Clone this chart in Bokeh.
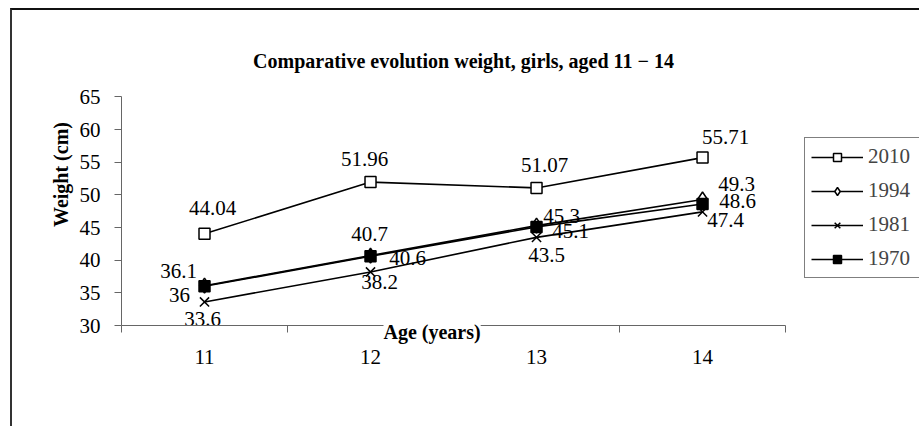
from bokeh.plotting import figure
from bokeh.models import (Range1d, FixedTicker, ColumnDataSource, Legend, LegendItem, Label, Title)
from bokeh.core.properties import value
from bokeh.embed import file_html
from bokeh.resources import INLINE

ages = [11, 12, 13, 14]
w2010 = [44.04, 51.96, 51.07, 55.71]
w1994 = [36.1, 40.7, 45.3, 49.3]
w1981 = [33.6, 38.2, 43.5, 47.4]
w1970 = [36.0, 40.6, 45.1, 48.6]
y_ticks = [30, 35, 40, 45, 50, 55, 60, 65]
title_text = "Comparative evolution weight, girls, aged 11 \u2212 14"
x_title = "Age (years)"
y_title = "Weight (cm)"

# label offsets (style only, screen px; positive dy = down)
offsets = {
    "2010": ([8, -6, 8, 23], [-26, -23, -23, -21]),
    "1994": ([-26, -1, 25, 34], [-15, -22, -10, -15]),
    "1981": ([-2, 9, 10, 23], [17, 10, 18, 8]),
    "1970": ([-25, 37, 34, 35], [9, 2, 4, -3]),
}

FONT = "Liberation Serif"

# frame is extended (invisibly) up and right so the title and legend sit inside it;
# axes are bounded to the real data extent
p = figure(width=909, height=418, output_backend="svg", toolbar_location=None,
           x_range=Range1d(10.5, 15.319), y_range=Range1d(30, 76.25),
           min_border_left=109, min_border_right=0, min_border_top=13, min_border_bottom=103)
p.styles = {"border-top": "2px solid #111", "border-left": "2px solid #333",
            "box-sizing": "border-box", "margin-left": "10px", "margin-top": "8px"}
p.grid.visible = False
p.outline_line_color = None
p.background_fill_color = "white"
p.border_fill_color = "white"

ax_color = "#666666"
xa = p.xaxis[0]
xa.bounds = (10.5, 14.5)
xa.ticker = FixedTicker(ticks=ages, minor_ticks=[10.5, 11.5, 12.5, 13.5, 14.5])
xa.major_tick_out = 0
xa.major_tick_in = 0
xa.minor_tick_out = 7
xa.minor_tick_in = 0
xa.minor_tick_line_color = ax_color
xa.axis_line_color = ax_color
xa.major_label_standoff = 17
xa.major_label_text_font = FONT
xa.major_label_text_font_size = "21px"
xa.major_label_text_color = "black"

ya = p.yaxis[0]
ya.bounds = (30, 65)
ya.ticker = FixedTicker(ticks=y_ticks, minor_ticks=[])
ya.major_tick_out = 7
ya.major_tick_in = 0
ya.major_tick_line_color = ax_color
ya.axis_line_color = ax_color
ya.major_label_standoff = 14
ya.major_label_text_font = FONT
ya.major_label_text_font_size = "21px"
ya.major_label_text_color = "black"
ya.axis_label = y_title
ya.axis_label_text_font = FONT
ya.axis_label_text_font_size = "20px"
ya.axis_label_text_font_style = "bold"
ya.axis_label_text_color = "black"
ya.axis_label_standoff = 5

p.add_layout(Title(text=x_title, align="left", offset=262, standoff=-92, vertical_align="top",
                   text_font=FONT, text_font_size="20px", text_font_style="bold",
                   text_color="black", background_fill_color="white"), "below")

series = [
    ("2010", w2010, "square", "white", 11),
    ("1994", w1994, "diamond", "white", 15),
    ("1981", w1981, "x", "black", 13),
    ("1970", w1970, "square", "black", 11),
]

items = []
for name, ys, marker, fill, size in series:
    src = ColumnDataSource(dict(x=ages, y=ys))
    ln = p.line("x", "y", source=src, line_color="black", line_width=1.6)
    sc = p.scatter("x", "y", source=src, marker=marker, size=size,
                   fill_color=fill, line_color="black", line_width=1.5)
    items.append(LegendItem(label=name, renderers=[ln, sc]))

for name, ys, marker, fill, size in series:
    src = ColumnDataSource(dict(x=ages, y=ys, t=[("%g" % v) for v in ys],
                                dx=offsets[name][0], dy=offsets[name][1]))
    p.text("x", "y", text="t", source=src, x_offset="dx", y_offset="dy",
           text_align="center", text_baseline="middle",
           text_font=value(FONT), text_font_size="21px", text_color="black")

legend = Legend(items=items, location=(683, 47), orientation="vertical",
                border_line_color="black", border_line_width=1,
                padding=6, spacing=9, glyph_width=52, glyph_height=20,
                label_height=20, label_width=60, label_standoff=5, margin=0,
                label_text_font=FONT, label_text_font_size="21px",
                background_fill_color="white", background_fill_alpha=1)
p.add_layout(legend, "center")

p.add_layout(Label(x=342, y=265, x_units="screen", y_units="screen", text=title_text,
                   text_align="center", text_baseline="middle", text_font=FONT,
                   text_font_size="20px", text_font_style="bold", text_color="black"))

open("out.html", "w").write(file_html(p, INLINE))
